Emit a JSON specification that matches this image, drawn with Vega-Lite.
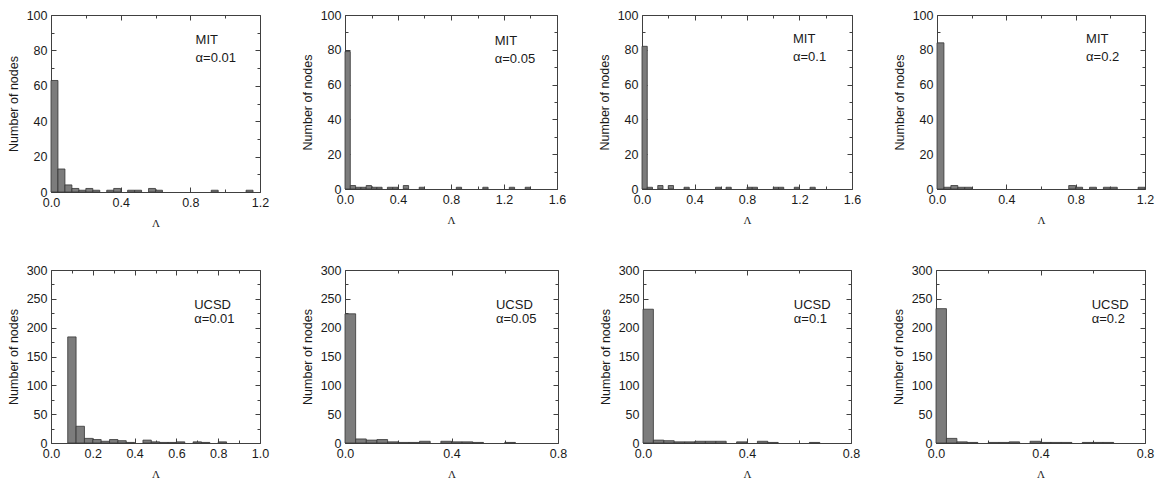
{
  "$schema": "https://vega.github.io/schema/vega-lite/v6.json",
  "background": "white",
  "padding": {"left": 6, "top": 8, "right": 4, "bottom": 2},
  "datasets": {
    "p1": [
      {"lo": 0, "hi": 0.04, "n": 63}, {"lo": 0.04, "hi": 0.08, "n": 13}, {"lo": 0.08, "hi": 0.12, "n": 4},
      {"lo": 0.12, "hi": 0.16, "n": 2}, {"lo": 0.16, "hi": 0.2, "n": 1}, {"lo": 0.2, "hi": 0.24, "n": 2},
      {"lo": 0.24, "hi": 0.28, "n": 1}, {"lo": 0.32, "hi": 0.36, "n": 1}, {"lo": 0.36, "hi": 0.4, "n": 2},
      {"lo": 0.44, "hi": 0.48, "n": 1}, {"lo": 0.48, "hi": 0.52, "n": 1}, {"lo": 0.56, "hi": 0.6, "n": 2},
      {"lo": 0.6, "hi": 0.64, "n": 1}, {"lo": 0.92, "hi": 0.96, "n": 1}, {"lo": 1.12, "hi": 1.16, "n": 1}
    ],
    "p2": [
      {"lo": 0, "hi": 0.04, "n": 79}, {"lo": 0.04, "hi": 0.08, "n": 2}, {"lo": 0.08, "hi": 0.12, "n": 1},
      {"lo": 0.12, "hi": 0.16, "n": 1}, {"lo": 0.16, "hi": 0.2, "n": 2}, {"lo": 0.2, "hi": 0.24, "n": 1},
      {"lo": 0.24, "hi": 0.28, "n": 1}, {"lo": 0.32, "hi": 0.36, "n": 1}, {"lo": 0.36, "hi": 0.4, "n": 1},
      {"lo": 0.44, "hi": 0.48, "n": 2}, {"lo": 0.56, "hi": 0.6, "n": 1}, {"lo": 0.84, "hi": 0.88, "n": 1},
      {"lo": 1.04, "hi": 1.08, "n": 1}, {"lo": 1.24, "hi": 1.28, "n": 1}, {"lo": 1.36, "hi": 1.4, "n": 1}
    ],
    "p3": [
      {"lo": 0, "hi": 0.04, "n": 82}, {"lo": 0.04, "hi": 0.08, "n": 1}, {"lo": 0.12, "hi": 0.16, "n": 2},
      {"lo": 0.2, "hi": 0.24, "n": 2}, {"lo": 0.32, "hi": 0.36, "n": 1}, {"lo": 0.56, "hi": 0.6, "n": 1},
      {"lo": 0.64, "hi": 0.68, "n": 1}, {"lo": 0.8, "hi": 0.84, "n": 1}, {"lo": 0.84, "hi": 0.88, "n": 1},
      {"lo": 1.0, "hi": 1.04, "n": 1}, {"lo": 1.04, "hi": 1.08, "n": 1}, {"lo": 1.16, "hi": 1.2, "n": 1},
      {"lo": 1.28, "hi": 1.32, "n": 1}
    ],
    "p4": [
      {"lo": 0, "hi": 0.04, "n": 84}, {"lo": 0.04, "hi": 0.08, "n": 1}, {"lo": 0.08, "hi": 0.12, "n": 2},
      {"lo": 0.12, "hi": 0.16, "n": 1}, {"lo": 0.16, "hi": 0.2, "n": 1}, {"lo": 0.76, "hi": 0.8, "n": 2},
      {"lo": 0.8, "hi": 0.84, "n": 1}, {"lo": 0.88, "hi": 0.92, "n": 1}, {"lo": 0.96, "hi": 1.0, "n": 1},
      {"lo": 1.0, "hi": 1.04, "n": 1}, {"lo": 1.16, "hi": 1.2, "n": 1}
    ],
    "p5": [
      {"lo": 0.08, "hi": 0.12, "n": 184}, {"lo": 0.12, "hi": 0.16, "n": 29}, {"lo": 0.16, "hi": 0.2, "n": 8},
      {"lo": 0.2, "hi": 0.24, "n": 6}, {"lo": 0.24, "hi": 0.28, "n": 3}, {"lo": 0.28, "hi": 0.32, "n": 6},
      {"lo": 0.32, "hi": 0.36, "n": 4}, {"lo": 0.36, "hi": 0.4, "n": 1}, {"lo": 0.44, "hi": 0.48, "n": 5},
      {"lo": 0.48, "hi": 0.52, "n": 2}, {"lo": 0.52, "hi": 0.56, "n": 1}, {"lo": 0.56, "hi": 0.6, "n": 1},
      {"lo": 0.6, "hi": 0.64, "n": 2}, {"lo": 0.68, "hi": 0.72, "n": 2}, {"lo": 0.72, "hi": 0.76, "n": 1},
      {"lo": 0.8, "hi": 0.84, "n": 2}
    ],
    "p6": [
      {"lo": 0, "hi": 0.04, "n": 224}, {"lo": 0.04, "hi": 0.08, "n": 7}, {"lo": 0.08, "hi": 0.12, "n": 5},
      {"lo": 0.12, "hi": 0.16, "n": 6}, {"lo": 0.16, "hi": 0.2, "n": 2}, {"lo": 0.2, "hi": 0.24, "n": 1},
      {"lo": 0.24, "hi": 0.28, "n": 1}, {"lo": 0.28, "hi": 0.32, "n": 3}, {"lo": 0.36, "hi": 0.4, "n": 3},
      {"lo": 0.4, "hi": 0.44, "n": 2}, {"lo": 0.44, "hi": 0.48, "n": 2}, {"lo": 0.48, "hi": 0.52, "n": 1},
      {"lo": 0.6, "hi": 0.64, "n": 1}
    ],
    "p7": [
      {"lo": 0, "hi": 0.04, "n": 232}, {"lo": 0.04, "hi": 0.08, "n": 5}, {"lo": 0.08, "hi": 0.12, "n": 4},
      {"lo": 0.12, "hi": 0.16, "n": 2}, {"lo": 0.16, "hi": 0.2, "n": 2}, {"lo": 0.2, "hi": 0.24, "n": 3},
      {"lo": 0.24, "hi": 0.28, "n": 3}, {"lo": 0.28, "hi": 0.32, "n": 3}, {"lo": 0.36, "hi": 0.4, "n": 2},
      {"lo": 0.44, "hi": 0.48, "n": 3}, {"lo": 0.48, "hi": 0.52, "n": 1}, {"lo": 0.64, "hi": 0.68, "n": 1}
    ],
    "p8": [
      {"lo": 0, "hi": 0.04, "n": 233}, {"lo": 0.04, "hi": 0.08, "n": 8}, {"lo": 0.08, "hi": 0.12, "n": 2},
      {"lo": 0.12, "hi": 0.16, "n": 1}, {"lo": 0.2, "hi": 0.24, "n": 1}, {"lo": 0.24, "hi": 0.28, "n": 1},
      {"lo": 0.28, "hi": 0.32, "n": 2}, {"lo": 0.36, "hi": 0.4, "n": 3}, {"lo": 0.4, "hi": 0.44, "n": 1},
      {"lo": 0.44, "hi": 0.48, "n": 1}, {"lo": 0.48, "hi": 0.52, "n": 1}, {"lo": 0.56, "hi": 0.6, "n": 1},
      {"lo": 0.6, "hi": 0.64, "n": 1}, {"lo": 0.64, "hi": 0.68, "n": 1}
    ]
  },
  "spacing": 34,
  "vconcat": [
    {
      "spacing": 85,
      "bounds": "flush",
      "hconcat": [
        {
          "width": 209, "height": 177,
          "resolve": {"axis": {"x": "independent", "y": "independent"}},
          "layer": [
            {"data": {"name": "p1"},
             "mark": {"type": "bar", "fill": "#7c7c7c", "stroke": "#353535", "strokeWidth": 0.8},
             "encoding": {
               "x": {"field": "lo", "type": "quantitative", "scale": {"domain": [0, 1.2], "nice": false, "zero": false},
                     "axis": {"values": [0, 0.2, 0.4, 0.6, 0.8, 1.0, 1.2], "format": ".1f", "labelExpr": "round(datum.value*10)%4==0 ? datum.label : ''", "tickSize": {"condition": {"test": "round(datum.value*10)%4==0", "value": -5}, "value": -3}, "title": "Λ"}},
               "x2": {"field": "hi"},
               "y": {"field": "n", "type": "quantitative", "scale": {"domain": [0, 100], "nice": false},
                     "axis": {"values": [0, 10, 20, 30, 40, 50, 60, 70, 80, 90, 100], "labelExpr": "datum.value%20==0 ? datum.label : ''", "tickSize": {"condition": {"test": "datum.value%20==0", "value": -5}, "value": -3}, "title": "Number of nodes"}},
               "y2": {"datum": 0}
             }},
            {"data": {"name": "p1"},
             "mark": {"type": "point", "opacity": 0},
             "encoding": {
               "x": {"field": "lo", "type": "quantitative", "axis": {"orient": "top", "labels": false, "title": null, "values": [0, 0.2, 0.4, 0.6, 0.8, 1.0, 1.2], "tickSize": {"condition": {"test": "round(datum.value*10)%4==0", "value": -5}, "value": -3}}},
               "y": {"field": "n", "type": "quantitative", "axis": {"orient": "right", "labels": false, "title": null, "values": [0, 10, 20, 30, 40, 50, 60, 70, 80, 90, 100], "tickSize": {"condition": {"test": "datum.value%20==0", "value": -5}, "value": -3}}}
             }},
            {"data": {"values": [{}]},
             "mark": {"type": "text", "text": ["MIT", "α=0.01"], "align": "left", "baseline": "middle", "lineHeight": 18, "font": "Liberation Sans", "fontSize": 13, "color": "#1a1a1a"},
             "encoding": {"x": {"datum": 0.83, "type": "quantitative", "axis": null}, "y": {"datum": 86, "type": "quantitative", "axis": null}}}
          ]
        },
        {
          "width": 212, "height": 174,
          "resolve": {"axis": {"x": "independent", "y": "independent"}},
          "layer": [
            {"data": {"name": "p2"},
             "mark": {"type": "bar", "fill": "#7c7c7c", "stroke": "#353535", "strokeWidth": 0.8},
             "encoding": {
               "x": {"field": "lo", "type": "quantitative", "scale": {"domain": [0, 1.6], "nice": false, "zero": false},
                     "axis": {"values": [0, 0.2, 0.4, 0.6, 0.8, 1.0, 1.2, 1.4, 1.6], "format": ".1f", "labelExpr": "round(datum.value*10)%4==0 ? datum.label : ''", "tickSize": {"condition": {"test": "round(datum.value*10)%4==0", "value": -5}, "value": -3}, "title": "Λ"}},
               "x2": {"field": "hi"},
               "y": {"field": "n", "type": "quantitative", "scale": {"domain": [0, 100], "nice": false},
                     "axis": {"values": [0, 10, 20, 30, 40, 50, 60, 70, 80, 90, 100], "labelExpr": "datum.value%20==0 ? datum.label : ''", "tickSize": {"condition": {"test": "datum.value%20==0", "value": -5}, "value": -3}, "title": "Number of nodes"}},
               "y2": {"datum": 0}
             }},
            {"data": {"name": "p2"},
             "mark": {"type": "point", "opacity": 0},
             "encoding": {
               "x": {"field": "lo", "type": "quantitative", "axis": {"orient": "top", "labels": false, "title": null, "values": [0, 0.2, 0.4, 0.6, 0.8, 1.0, 1.2, 1.4, 1.6], "tickSize": {"condition": {"test": "round(datum.value*10)%4==0", "value": -5}, "value": -3}}},
               "y": {"field": "n", "type": "quantitative", "axis": {"orient": "right", "labels": false, "title": null, "values": [0, 10, 20, 30, 40, 50, 60, 70, 80, 90, 100], "tickSize": {"condition": {"test": "datum.value%20==0", "value": -5}, "value": -3}}}
             }},
            {"data": {"values": [{}]},
             "mark": {"type": "text", "text": ["MIT", "α=0.05"], "align": "left", "baseline": "middle", "lineHeight": 18, "font": "Liberation Sans", "fontSize": 13, "color": "#1a1a1a"},
             "encoding": {"x": {"datum": 1.13, "type": "quantitative", "axis": null}, "y": {"datum": 85, "type": "quantitative", "axis": null}}}
          ]
        },
        {
          "width": 210, "height": 174,
          "resolve": {"axis": {"x": "independent", "y": "independent"}},
          "layer": [
            {"data": {"name": "p3"},
             "mark": {"type": "bar", "fill": "#7c7c7c", "stroke": "#353535", "strokeWidth": 0.8},
             "encoding": {
               "x": {"field": "lo", "type": "quantitative", "scale": {"domain": [0, 1.6], "nice": false, "zero": false},
                     "axis": {"values": [0, 0.2, 0.4, 0.6, 0.8, 1.0, 1.2, 1.4, 1.6], "format": ".1f", "labelExpr": "round(datum.value*10)%4==0 ? datum.label : ''", "tickSize": {"condition": {"test": "round(datum.value*10)%4==0", "value": -5}, "value": -3}, "title": "Λ"}},
               "x2": {"field": "hi"},
               "y": {"field": "n", "type": "quantitative", "scale": {"domain": [0, 100], "nice": false},
                     "axis": {"values": [0, 10, 20, 30, 40, 50, 60, 70, 80, 90, 100], "labelExpr": "datum.value%20==0 ? datum.label : ''", "tickSize": {"condition": {"test": "datum.value%20==0", "value": -5}, "value": -3}, "title": "Number of nodes"}},
               "y2": {"datum": 0}
             }},
            {"data": {"name": "p3"},
             "mark": {"type": "point", "opacity": 0},
             "encoding": {
               "x": {"field": "lo", "type": "quantitative", "axis": {"orient": "top", "labels": false, "title": null, "values": [0, 0.2, 0.4, 0.6, 0.8, 1.0, 1.2, 1.4, 1.6], "tickSize": {"condition": {"test": "round(datum.value*10)%4==0", "value": -5}, "value": -3}}},
               "y": {"field": "n", "type": "quantitative", "axis": {"orient": "right", "labels": false, "title": null, "values": [0, 10, 20, 30, 40, 50, 60, 70, 80, 90, 100], "tickSize": {"condition": {"test": "datum.value%20==0", "value": -5}, "value": -3}}}
             }},
            {"data": {"values": [{}]},
             "mark": {"type": "text", "text": ["MIT", "α=0.1"], "align": "left", "baseline": "middle", "lineHeight": 18, "font": "Liberation Sans", "fontSize": 13, "color": "#1a1a1a"},
             "encoding": {"x": {"datum": 1.15, "type": "quantitative", "axis": null}, "y": {"datum": 86, "type": "quantitative", "axis": null}}}
          ]
        },
        {
          "width": 208, "height": 174,
          "resolve": {"axis": {"x": "independent", "y": "independent"}},
          "layer": [
            {"data": {"name": "p4"},
             "mark": {"type": "bar", "fill": "#7c7c7c", "stroke": "#353535", "strokeWidth": 0.8},
             "encoding": {
               "x": {"field": "lo", "type": "quantitative", "scale": {"domain": [0, 1.2], "nice": false, "zero": false},
                     "axis": {"values": [0, 0.2, 0.4, 0.6, 0.8, 1.0, 1.2], "format": ".1f", "labelExpr": "round(datum.value*10)%4==0 ? datum.label : ''", "tickSize": {"condition": {"test": "round(datum.value*10)%4==0", "value": -5}, "value": -3}, "title": "Λ"}},
               "x2": {"field": "hi"},
               "y": {"field": "n", "type": "quantitative", "scale": {"domain": [0, 100], "nice": false},
                     "axis": {"values": [0, 10, 20, 30, 40, 50, 60, 70, 80, 90, 100], "labelExpr": "datum.value%20==0 ? datum.label : ''", "tickSize": {"condition": {"test": "datum.value%20==0", "value": -5}, "value": -3}, "title": "Number of nodes"}},
               "y2": {"datum": 0}
             }},
            {"data": {"name": "p4"},
             "mark": {"type": "point", "opacity": 0},
             "encoding": {
               "x": {"field": "lo", "type": "quantitative", "axis": {"orient": "top", "labels": false, "title": null, "values": [0, 0.2, 0.4, 0.6, 0.8, 1.0, 1.2], "tickSize": {"condition": {"test": "round(datum.value*10)%4==0", "value": -5}, "value": -3}}},
               "y": {"field": "n", "type": "quantitative", "axis": {"orient": "right", "labels": false, "title": null, "values": [0, 10, 20, 30, 40, 50, 60, 70, 80, 90, 100], "tickSize": {"condition": {"test": "datum.value%20==0", "value": -5}, "value": -3}}}
             }},
            {"data": {"values": [{}]},
             "mark": {"type": "text", "text": ["MIT", "α=0.2"], "align": "left", "baseline": "middle", "lineHeight": 18, "font": "Liberation Sans", "fontSize": 13, "color": "#1a1a1a"},
             "encoding": {"x": {"datum": 0.86, "type": "quantitative", "axis": null}, "y": {"datum": 86, "type": "quantitative", "axis": null}}}
          ]
        }
      ]
    },
    {
      "spacing": 85,
      "bounds": "flush",
      "hconcat": [
        {
          "width": 209, "height": 173,
          "resolve": {"axis": {"x": "independent", "y": "independent"}},
          "layer": [
            {"data": {"name": "p5"},
             "mark": {"type": "bar", "fill": "#7c7c7c", "stroke": "#353535", "strokeWidth": 0.8},
             "encoding": {
               "x": {"field": "lo", "type": "quantitative", "scale": {"domain": [0, 1.0], "nice": false, "zero": false},
                     "axis": {"values": [0, 0.1, 0.2, 0.3, 0.4, 0.5, 0.6, 0.7, 0.8, 0.9, 1.0], "format": ".1f", "labelExpr": "round(datum.value*10)%2==0 ? datum.label : ''", "tickSize": {"condition": {"test": "round(datum.value*10)%2==0", "value": -5}, "value": -3}, "title": "Λ"}},
               "x2": {"field": "hi"},
               "y": {"field": "n", "type": "quantitative", "scale": {"domain": [0, 300], "nice": false},
                     "axis": {"values": [0, 25, 50, 75, 100, 125, 150, 175, 200, 225, 250, 275, 300], "labelExpr": "datum.value%50==0 ? datum.label : ''", "tickSize": {"condition": {"test": "datum.value%50==0", "value": -5}, "value": -3}, "title": "Number of nodes"}},
               "y2": {"datum": 0}
             }},
            {"data": {"name": "p5"},
             "mark": {"type": "point", "opacity": 0},
             "encoding": {
               "x": {"field": "lo", "type": "quantitative", "axis": {"orient": "top", "labels": false, "title": null, "values": [0, 0.1, 0.2, 0.3, 0.4, 0.5, 0.6, 0.7, 0.8, 0.9, 1.0], "tickSize": {"condition": {"test": "round(datum.value*10)%2==0", "value": -5}, "value": -3}}},
               "y": {"field": "n", "type": "quantitative", "axis": {"orient": "right", "labels": false, "title": null, "values": [0, 25, 50, 75, 100, 125, 150, 175, 200, 225, 250, 275, 300], "tickSize": {"condition": {"test": "datum.value%50==0", "value": -5}, "value": -3}}}
             }},
            {"data": {"values": [{}]},
             "mark": {"type": "text", "text": ["UCSD", "α=0.01"], "align": "left", "baseline": "middle", "lineHeight": 14, "font": "Liberation Sans", "fontSize": 13, "color": "#1a1a1a"},
             "encoding": {"x": {"datum": 0.685, "type": "quantitative", "axis": null}, "y": {"datum": 240, "type": "quantitative", "axis": null}}}
          ]
        },
        {
          "width": 213, "height": 173,
          "resolve": {"axis": {"x": "independent", "y": "independent"}},
          "layer": [
            {"data": {"name": "p6"},
             "mark": {"type": "bar", "fill": "#7c7c7c", "stroke": "#353535", "strokeWidth": 0.8},
             "encoding": {
               "x": {"field": "lo", "type": "quantitative", "scale": {"domain": [0, 0.8], "nice": false, "zero": false},
                     "axis": {"values": [0, 0.2, 0.4, 0.6, 0.8], "format": ".1f", "labelExpr": "round(datum.value*10)%4==0 ? datum.label : ''", "tickSize": {"condition": {"test": "round(datum.value*10)%4==0", "value": -5}, "value": -3}, "title": "Λ"}},
               "x2": {"field": "hi"},
               "y": {"field": "n", "type": "quantitative", "scale": {"domain": [0, 300], "nice": false},
                     "axis": {"values": [0, 25, 50, 75, 100, 125, 150, 175, 200, 225, 250, 275, 300], "labelExpr": "datum.value%50==0 ? datum.label : ''", "tickSize": {"condition": {"test": "datum.value%50==0", "value": -5}, "value": -3}, "title": "Number of nodes"}},
               "y2": {"datum": 0}
             }},
            {"data": {"name": "p6"},
             "mark": {"type": "point", "opacity": 0},
             "encoding": {
               "x": {"field": "lo", "type": "quantitative", "axis": {"orient": "top", "labels": false, "title": null, "values": [0, 0.2, 0.4, 0.6, 0.8], "tickSize": {"condition": {"test": "round(datum.value*10)%4==0", "value": -5}, "value": -3}}},
               "y": {"field": "n", "type": "quantitative", "axis": {"orient": "right", "labels": false, "title": null, "values": [0, 25, 50, 75, 100, 125, 150, 175, 200, 225, 250, 275, 300], "tickSize": {"condition": {"test": "datum.value%50==0", "value": -5}, "value": -3}}}
             }},
            {"data": {"values": [{}]},
             "mark": {"type": "text", "text": ["UCSD", "α=0.05"], "align": "left", "baseline": "middle", "lineHeight": 14, "font": "Liberation Sans", "fontSize": 13, "color": "#1a1a1a"},
             "encoding": {"x": {"datum": 0.567, "type": "quantitative", "axis": null}, "y": {"datum": 240, "type": "quantitative", "axis": null}}}
          ]
        },
        {
          "width": 208, "height": 173,
          "resolve": {"axis": {"x": "independent", "y": "independent"}},
          "layer": [
            {"data": {"name": "p7"},
             "mark": {"type": "bar", "fill": "#7c7c7c", "stroke": "#353535", "strokeWidth": 0.8},
             "encoding": {
               "x": {"field": "lo", "type": "quantitative", "scale": {"domain": [0, 0.8], "nice": false, "zero": false},
                     "axis": {"values": [0, 0.2, 0.4, 0.6, 0.8], "format": ".1f", "labelExpr": "round(datum.value*10)%4==0 ? datum.label : ''", "tickSize": {"condition": {"test": "round(datum.value*10)%4==0", "value": -5}, "value": -3}, "title": "Λ"}},
               "x2": {"field": "hi"},
               "y": {"field": "n", "type": "quantitative", "scale": {"domain": [0, 300], "nice": false},
                     "axis": {"values": [0, 25, 50, 75, 100, 125, 150, 175, 200, 225, 250, 275, 300], "labelExpr": "datum.value%50==0 ? datum.label : ''", "tickSize": {"condition": {"test": "datum.value%50==0", "value": -5}, "value": -3}, "title": "Number of nodes"}},
               "y2": {"datum": 0}
             }},
            {"data": {"name": "p7"},
             "mark": {"type": "point", "opacity": 0},
             "encoding": {
               "x": {"field": "lo", "type": "quantitative", "axis": {"orient": "top", "labels": false, "title": null, "values": [0, 0.2, 0.4, 0.6, 0.8], "tickSize": {"condition": {"test": "round(datum.value*10)%4==0", "value": -5}, "value": -3}}},
               "y": {"field": "n", "type": "quantitative", "axis": {"orient": "right", "labels": false, "title": null, "values": [0, 25, 50, 75, 100, 125, 150, 175, 200, 225, 250, 275, 300], "tickSize": {"condition": {"test": "datum.value%50==0", "value": -5}, "value": -3}}}
             }},
            {"data": {"values": [{}]},
             "mark": {"type": "text", "text": ["UCSD", "α=0.1"], "align": "left", "baseline": "middle", "lineHeight": 14, "font": "Liberation Sans", "fontSize": 13, "color": "#1a1a1a"},
             "encoding": {"x": {"datum": 0.58, "type": "quantitative", "axis": null}, "y": {"datum": 240, "type": "quantitative", "axis": null}}}
          ]
        },
        {
          "width": 209, "height": 173,
          "resolve": {"axis": {"x": "independent", "y": "independent"}},
          "layer": [
            {"data": {"name": "p8"},
             "mark": {"type": "bar", "fill": "#7c7c7c", "stroke": "#353535", "strokeWidth": 0.8},
             "encoding": {
               "x": {"field": "lo", "type": "quantitative", "scale": {"domain": [0, 0.8], "nice": false, "zero": false},
                     "axis": {"values": [0, 0.2, 0.4, 0.6, 0.8], "format": ".1f", "labelExpr": "round(datum.value*10)%4==0 ? datum.label : ''", "tickSize": {"condition": {"test": "round(datum.value*10)%4==0", "value": -5}, "value": -3}, "title": "Λ"}},
               "x2": {"field": "hi"},
               "y": {"field": "n", "type": "quantitative", "scale": {"domain": [0, 300], "nice": false},
                     "axis": {"values": [0, 25, 50, 75, 100, 125, 150, 175, 200, 225, 250, 275, 300], "labelExpr": "datum.value%50==0 ? datum.label : ''", "tickSize": {"condition": {"test": "datum.value%50==0", "value": -5}, "value": -3}, "title": "Number of nodes"}},
               "y2": {"datum": 0}
             }},
            {"data": {"name": "p8"},
             "mark": {"type": "point", "opacity": 0},
             "encoding": {
               "x": {"field": "lo", "type": "quantitative", "axis": {"orient": "top", "labels": false, "title": null, "values": [0, 0.2, 0.4, 0.6, 0.8], "tickSize": {"condition": {"test": "round(datum.value*10)%4==0", "value": -5}, "value": -3}}},
               "y": {"field": "n", "type": "quantitative", "axis": {"orient": "right", "labels": false, "title": null, "values": [0, 25, 50, 75, 100, 125, 150, 175, 200, 225, 250, 275, 300], "tickSize": {"condition": {"test": "datum.value%50==0", "value": -5}, "value": -3}}}
             }},
            {"data": {"values": [{}]},
             "mark": {"type": "text", "text": ["UCSD", "α=0.2"], "align": "left", "baseline": "middle", "lineHeight": 14, "font": "Liberation Sans", "fontSize": 13, "color": "#1a1a1a"},
             "encoding": {"x": {"datum": 0.596, "type": "quantitative", "axis": null}, "y": {"datum": 240, "type": "quantitative", "axis": null}}}
          ]
        }
      ]
    }
  ],
  "config": {
    "view": {"stroke": "#404040", "strokeWidth": 1},
    "axis": {
      "domain": false, "grid": false, "ticks": true, "tickColor": "#404040", "tickWidth": 1,
      "labelFont": "Liberation Sans", "labelFontSize": 12.5, "labelColor": "#1a1a1a", "labelPadding": 9,
      "labelFlush": false, "labelOverlap": false,
      "titleFont": "Liberation Sans", "titleFontSize": 12.5, "titleFontWeight": "normal", "titleColor": "#1a1a1a"
    },
    "axisX": {"titleFont": "Liberation Serif", "titleFontSize": 11, "titlePadding": 7},
    "axisY": {"titlePadding": 6}
  }
}
